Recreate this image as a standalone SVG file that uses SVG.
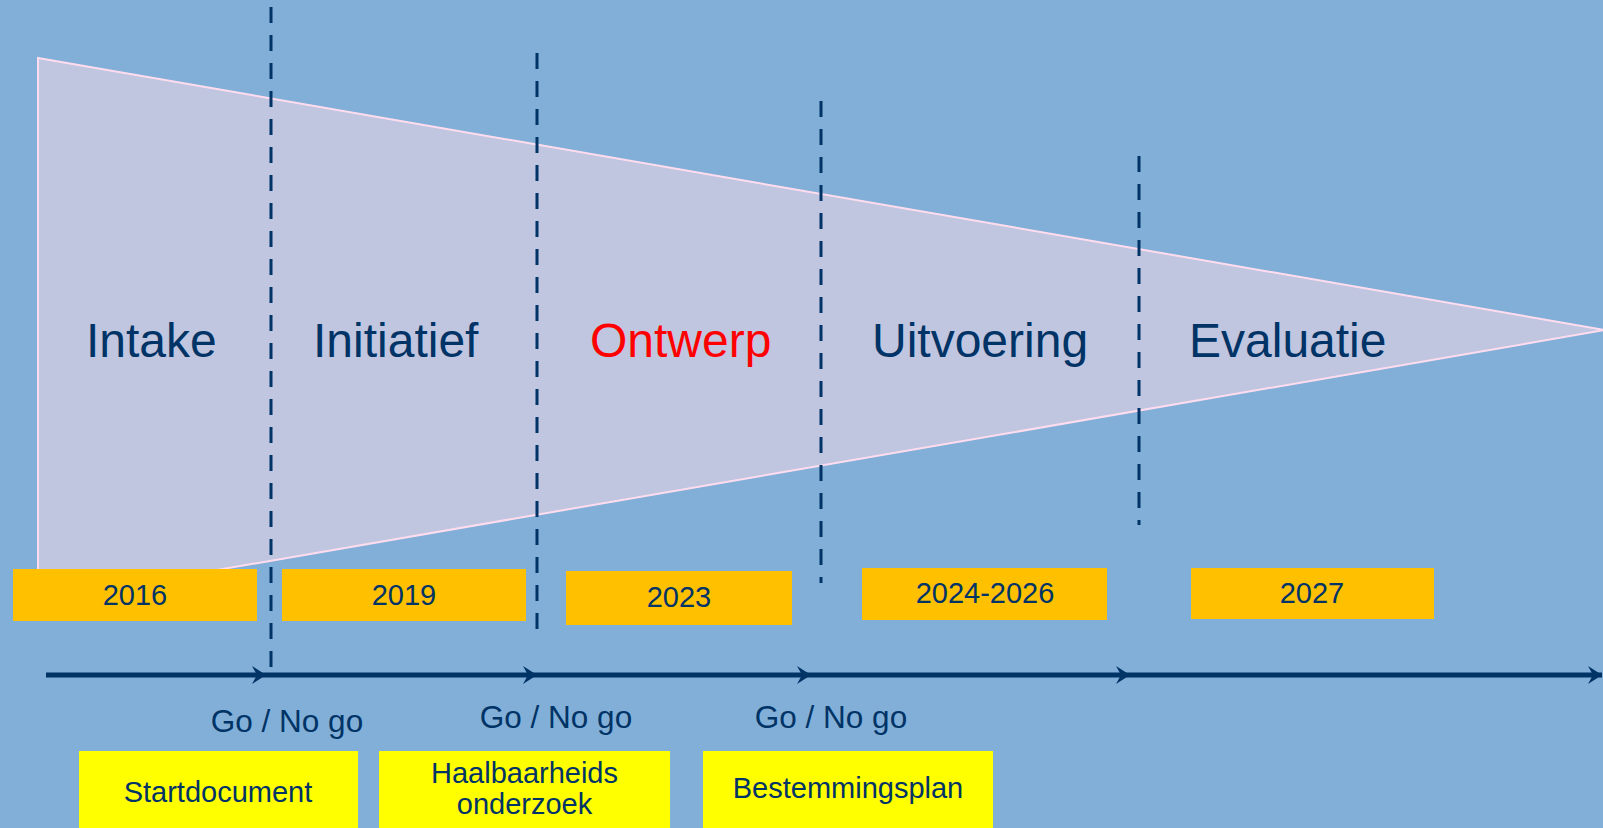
<svg xmlns="http://www.w3.org/2000/svg" width="1603" height="828" viewBox="0 0 1603 828">
  <style>
    text { font-family: "Liberation Sans", Arial, sans-serif; fill: #003366; }
    .phase { font-size: 48px; }
    .year { font-size: 29px; text-anchor: middle; }
    .doc { font-size: 29px; text-anchor: middle; }
    .go { font-size: 31.5px; text-anchor: middle; }
    .orange { fill: #FFC000; }
    .yellow { fill: #FFFF00; }
    .dash { stroke: #003366; stroke-width: 3; stroke-dasharray: 16 12; fill: none; }
    .axis { stroke: #003366; stroke-width: 5; fill: none; marker-end: url(#arr); }
  </style>
  <defs>
    <marker id="arr" markerUnits="userSpaceOnUse" viewBox="-16 -10 17 20" refX="0" refY="0" markerWidth="17" markerHeight="20" orient="auto">
      <path d="M-14,-9 L0,0 L-14,9 L-9,0 Z" fill="#003366"/>
    </marker>
  </defs>
  <rect x="0" y="0" width="1603" height="828" fill="#82AFD8"/>

  <g id="funnel">
    <polygon points="38,58 1605,330 38,601" fill="#C0C5E0" stroke="#FFDDEE" stroke-width="2"/>
  </g>

  <g id="phase-dividers">
    <line class="dash" x1="271" y1="7" x2="271" y2="667"/>
    <line class="dash" x1="537" y1="53" x2="537" y2="629"/>
    <line class="dash" x1="821" y1="101" x2="821" y2="583"/>
    <line class="dash" x1="1139" y1="156" x2="1139" y2="525"/>
  </g>

  <g id="phase-intake"><text class="phase" x="86" y="357">Intake</text></g>
  <g id="phase-initiatief"><text class="phase" x="313" y="357">Initiatief</text></g>
  <g id="phase-ontwerp"><text class="phase" x="590" y="357" style="fill:#FF0000">Ontwerp</text></g>
  <g id="phase-uitvoering"><text class="phase" x="872" y="357">Uitvoering</text></g>
  <g id="phase-evaluatie"><text class="phase" x="1189" y="357">Evaluatie</text></g>

  <g id="year-2016"><rect class="orange" x="13" y="569" width="244" height="52"/><text class="year" x="135" y="605">2016</text></g>
  <g id="year-2019"><rect class="orange" x="282" y="569" width="244" height="52"/><text class="year" x="404" y="605">2019</text></g>
  <g id="year-2023"><rect class="orange" x="566" y="571" width="226" height="54"/><text class="year" x="679" y="607">2023</text></g>
  <g id="year-2024-2026"><rect class="orange" x="862" y="568" width="245" height="52"/><text class="year" x="985" y="603">2024-2026</text></g>
  <g id="year-2027"><rect class="orange" x="1191" y="568" width="243" height="51"/><text class="year" x="1312" y="603">2027</text></g>

  <g id="connectors">
    <line class="axis" x1="46" y1="675" x2="266" y2="675"/>
    <line class="axis" x1="266" y1="675" x2="537" y2="675"/>
    <line class="axis" x1="537" y1="675" x2="811" y2="675"/>
    <line class="axis" x1="811" y1="675" x2="1130" y2="675"/>
    <line class="axis" x1="1130" y1="675" x2="1602" y2="675"/>
  </g>

  <g id="gate-1"><text class="go" x="287" y="732">Go / No go</text></g>
  <g id="gate-2"><text class="go" x="556" y="728">Go / No go</text></g>
  <g id="gate-3"><text class="go" x="831" y="728">Go / No go</text></g>

  <g id="doc-startdocument"><rect class="yellow" x="79" y="751" width="279" height="77"/><text class="doc" x="218" y="802">Startdocument</text></g>
  <g id="doc-haalbaarheid"><rect class="yellow" x="379" y="751" width="291" height="77"/><text class="doc" x="524.5" y="783">Haalbaarheids</text><text class="doc" x="524.5" y="814">onderzoek</text></g>
  <g id="doc-bestemmingsplan"><rect class="yellow" x="703" y="751" width="290" height="77"/><text class="doc" x="848" y="798">Bestemmingsplan</text></g>
</svg>
